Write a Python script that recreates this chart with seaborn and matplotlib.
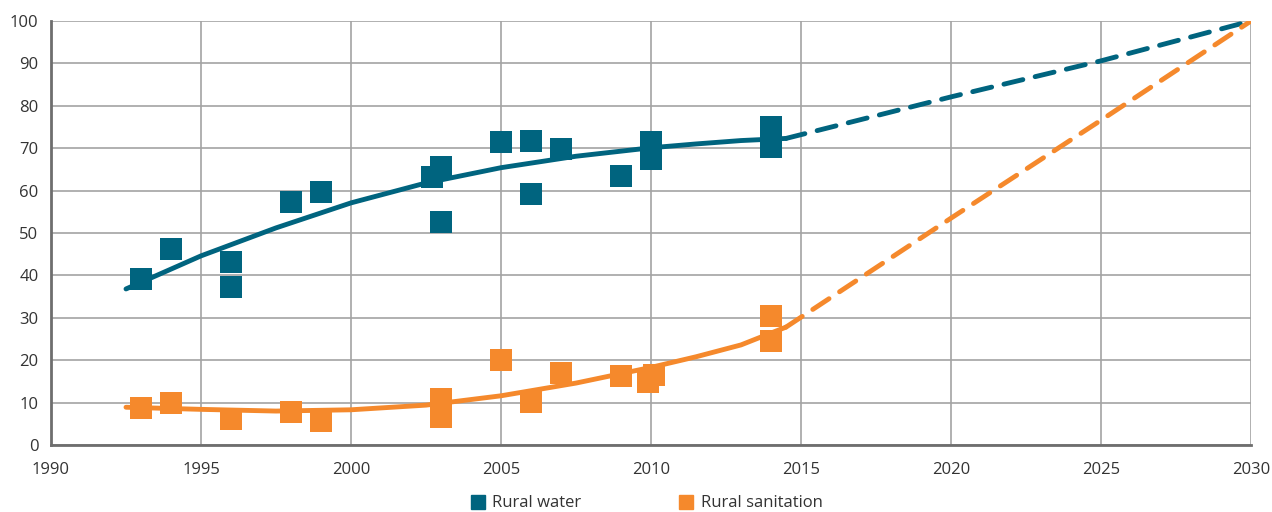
import pandas as pd
import seaborn as sns
import matplotlib.pyplot as plt
from matplotlib.lines import Line2D

# survey points
water_years = [1993, 1994, 1996, 1996, 1998, 1999, 2002.7, 2003, 2003, 2005,
               2006, 2006, 2007, 2009, 2010, 2010, 2014, 2014]
water_vals = [39.2, 46.2, 43.2, 37.3, 57.3, 59.7, 63.2, 65.6, 52.6, 71.5,
              71.7, 59.2, 69.8, 63.4, 71.5, 67.5, 75.0, 70.3]

san_years = [1993, 1994, 1996, 1998, 1999, 2003, 2003, 2005, 2006, 2007,
             2009, 2009.9, 2010.1, 2014, 2014]
san_vals = [8.7, 9.9, 6.1, 7.8, 5.7, 10.9, 6.5, 20.0, 10.1, 17.0,
            16.3, 14.9, 16.5, 30.4, 24.5]

# trend lines (solid) and projections (dashed)
trend_years = [1992.5, 1995, 1997.5, 2000, 2002.5, 2005, 2007.5, 2010,
               2011.5, 2013, 2014.5]
water_trend = [36.8, 44.6, 51.2, 57.1, 61.8, 65.4, 68.1, 70.1,
               71.0, 71.8, 72.3]
san_trend = [8.9, 8.4, 8.0, 8.3, 9.4, 11.6, 14.6, 18.3,
             20.8, 23.6, 27.8]

proj_years = [2014.5, 2020, 2025, 2030]
water_proj = [72.3, 82.1, 90.6, 100]
san_proj = [27.8, 53.5, 76.6, 100]

BLUE = "#00647f"
ORANGE = "#f5892c"

sns.set_style("white")
plt.rcParams["font.family"] = ["Open Sans", "DejaVu Sans"]

fig = plt.figure(figsize=(12.72, 5.12), dpi=100)
ax = fig.add_axes([0.0401, 0.1309, 0.9434, 0.8281])

water = pd.DataFrame({"year": water_years, "value": water_vals})
san = pd.DataFrame({"year": san_years, "value": san_vals})
wt = pd.DataFrame({"year": trend_years, "value": water_trend})
st = pd.DataFrame({"year": trend_years, "value": san_trend})
wp = pd.DataFrame({"year": proj_years, "value": water_proj})
sp = pd.DataFrame({"year": proj_years, "value": san_proj})

sns.lineplot(data=wt, x="year", y="value", color=BLUE, lw=3.5, sort=False,
             ax=ax, zorder=3, solid_capstyle="round", solid_joinstyle="round")
sns.lineplot(data=st, x="year", y="value", color=ORANGE, lw=3.5, sort=False,
             ax=ax, zorder=3, solid_capstyle="round", solid_joinstyle="round")
sns.lineplot(data=wp, x="year", y="value", color=BLUE, lw=3.5, sort=False,
             ax=ax, zorder=3, linestyle=(0, (4, 2.6)), dash_capstyle="round")
sns.lineplot(data=sp, x="year", y="value", color=ORANGE, lw=3.5, sort=False,
             ax=ax, zorder=3, linestyle=(0, (4, 2.6)), dash_capstyle="round")

sns.scatterplot(data=water, x="year", y="value", color=BLUE, marker="s",
                s=270, linewidth=0, ax=ax, zorder=4)
sns.scatterplot(data=san, x="year", y="value", color=ORANGE, marker="s",
                s=270, linewidth=0, ax=ax, zorder=4)

ax.set_xlim(1990, 2030)
ax.set_ylim(0, 100)
ax.set_xticks(range(1990, 2031, 5))
ax.set_yticks(range(0, 101, 10))
ax.set_xlabel("")
ax.set_ylabel("")
ax.grid(True, color="#a3a3a3", lw=1.2)
ax.set_axisbelow(True)

for side in ["top", "right"]:
    ax.spines[side].set_visible(False)
for side in ["left", "bottom"]:
    ax.spines[side].set_color("#6e6e6e")
    ax.spines[side].set_linewidth(2)
ax.spines["bottom"].set_zorder(5)

ax.tick_params(axis="both", colors="#6e6e6e", labelcolor="#333333",
               labelsize=12, length=6, width=1)
ax.tick_params(axis="x", pad=6)
ax.tick_params(axis="y", pad=3)

handles = [
    Line2D([], [], marker="s", color=BLUE, linestyle="", markersize=10),
    Line2D([], [], marker="s", color=ORANGE, linestyle="", markersize=10),
]
fig.legend(handles, ["Rural water", "Rural sanitation"], loc="lower center",
           bbox_to_anchor=(0.508, -0.028), ncol=2, frameon=False,
           fontsize=12, handlelength=1.0, handletextpad=0.35,
           columnspacing=5.8, labelcolor="#333333")

fig.savefig("out.png", dpi=100)
